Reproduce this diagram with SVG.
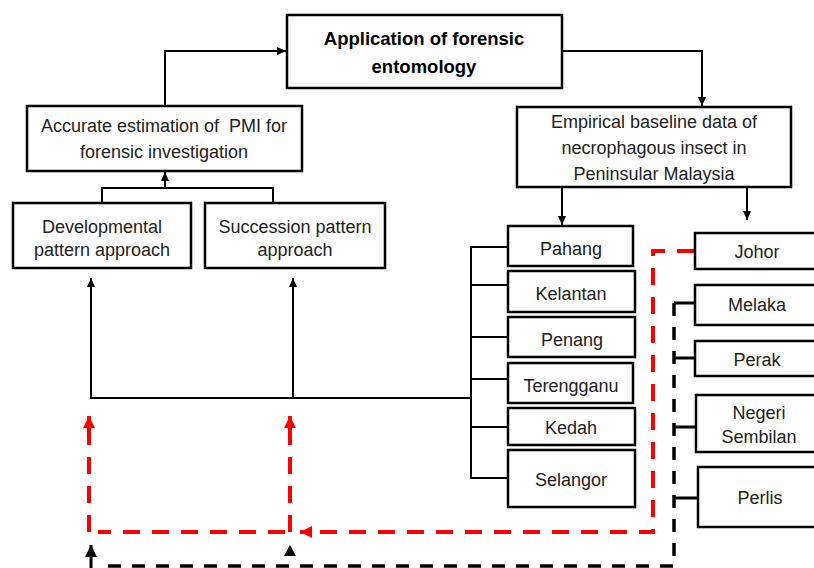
<svg xmlns="http://www.w3.org/2000/svg" width="814" height="568" viewBox="0 0 814 568">
<style>
.box{fill:#fff;stroke:#000;stroke-width:2.5}
.t{font-family:"Liberation Sans",Arial,sans-serif;font-size:18px;fill:#222;text-anchor:middle;white-space:pre}
.tb{font-family:"Liberation Sans",Arial,sans-serif;font-size:18.5px;font-weight:bold;fill:#000;text-anchor:middle}
.ln{fill:none;stroke:#000;stroke-width:2}
.red{fill:none;stroke:#f00;stroke-width:4;stroke-dasharray:17 12}
.bd{fill:none;stroke:#000;stroke-width:3.5;stroke-dasharray:13 11}
</style>
<defs>
<marker id="ab" markerUnits="userSpaceOnUse" markerWidth="10" markerHeight="10" refX="9" refY="5" orient="auto"><path d="M0,1 L9,5 L0,9 Z" fill="#000"/></marker>
<marker id="ab2" markerUnits="userSpaceOnUse" markerWidth="14" markerHeight="14" refX="12" refY="7" orient="auto"><path d="M0,1 L12,7 L0,13 Z" fill="#000"/></marker>
<marker id="ar" markerUnits="userSpaceOnUse" markerWidth="14" markerHeight="14" refX="12" refY="7" orient="auto"><path d="M0,1 L12,7 L0,13 Z" fill="#f00"/></marker>
</defs>
<rect width="814" height="568" fill="#fff"/>
<g id="connectors">
<path class="ln" d="M165,106 V51 H286" marker-end="url(#ab)"/>
<path class="ln" d="M562,51 H702 V106" marker-end="url(#ab)"/>
<path class="ln" d="M102,203 V188 H273 V203"/>
<path class="ln" d="M165,188 V172" marker-end="url(#ab)"/>
<path class="ln" d="M562,187 V225" marker-end="url(#ab)"/>
<path class="ln" d="M747,187 V220" marker-end="url(#ab)"/>
<path class="ln" d="M508,247 H471 V478 H508 M471,285 H508 M471,337 H508 M471,379 H508 M471,427 H508"/>
<path class="ln" d="M471,398 H91 V278" marker-end="url(#ab)"/>
<path class="ln" d="M293,398 V278" marker-end="url(#ab)"/>
<path class="red" d="M694,251 H653 V532 H310"/>
<path d="M310,532 H300" stroke="#f00" stroke-width="4" marker-end="url(#ar)"/>
<path class="red" d="M285,532 H98"/>
<path class="red" d="M89,532 V420"/>
<path d="M89,422 V416" stroke="#f00" stroke-width="4" marker-end="url(#ar)"/>
<path class="red" d="M290,532 V420"/>
<path d="M290,422 V416" stroke="#f00" stroke-width="4" marker-end="url(#ar)"/>
<path class="bd" d="M674,303 V566 H100"/>
<path d="M674,303 H695 M674,358 H695 M674,427 H696 M674,498 H698" stroke="#000" stroke-width="3"/>
<path d="M91,570 V545" stroke="#000" stroke-width="3" marker-end="url(#ab2)"/>
<path d="M290,545 L296,556 L284,556 Z" fill="#000"/>
</g>
<g id="n-title"><rect class="box" x="287" y="15" width="275" height="73"/><text class="tb" x="424" y="45">Application of forensic</text><text class="tb" x="424" y="73">entomology</text></g>
<g id="n-pmi"><rect class="box" x="27" y="106" width="275" height="65"/><text class="t" x="164" y="132">Accurate estimation of  PMI for</text><text class="t" x="164" y="158">forensic investigation</text></g>
<g id="n-dev"><rect class="box" x="13" y="203" width="178" height="65"/><text class="t" x="102" y="233">Developmental</text><text class="t" x="102" y="256">pattern approach</text></g>
<g id="n-succ"><rect class="box" x="205" y="203" width="180" height="65"/><text class="t" x="295" y="233">Succession pattern</text><text class="t" x="295" y="256">approach</text></g>
<g id="n-emp"><rect class="box" x="517" y="107" width="274" height="80"/><text class="t" x="654" y="128">Empirical baseline data of</text><text class="t" x="654" y="154">necrophagous insect in</text><text class="t" x="654" y="180">Peninsular Malaysia</text></g>
<g id="n-pahang"><rect class="box" x="508" y="226" width="125" height="40"/><text class="t" x="571" y="255">Pahang</text></g>
<g id="n-kelantan"><rect class="box" x="508" y="271" width="127" height="41"/><text class="t" x="571" y="300">Kelantan</text></g>
<g id="n-penang"><rect class="box" x="508" y="317" width="127" height="40"/><text class="t" x="572" y="346">Penang</text></g>
<g id="n-terengganu"><rect class="box" x="508" y="363" width="125" height="40"/><text class="t" x="571" y="392">Terengganu</text></g>
<g id="n-kedah"><rect class="box" x="508" y="408" width="127" height="37"/><text class="t" x="571" y="434">Kedah</text></g>
<g id="n-selangor"><rect class="box" x="508" y="450" width="127" height="57"/><text class="t" x="571" y="486">Selangor</text></g>
<g id="n-johor"><rect class="box" x="695" y="233" width="140" height="36"/><text class="t" x="757" y="258">Johor</text></g>
<g id="n-melaka"><rect class="box" x="695" y="285" width="140" height="40"/><text class="t" x="757" y="311">Melaka</text></g>
<g id="n-perak"><rect class="box" x="695" y="341" width="140" height="35"/><text class="t" x="757" y="366">Perak</text></g>
<g id="n-negeri"><rect class="box" x="696" y="395" width="140" height="57"/><text class="t" x="759" y="419">Negeri</text><text class="t" x="759" y="443">Sembilan</text></g>
<g id="n-perlis"><rect class="box" x="698" y="467" width="140" height="60"/><text class="t" x="760" y="504">Perlis</text></g>
</svg>
